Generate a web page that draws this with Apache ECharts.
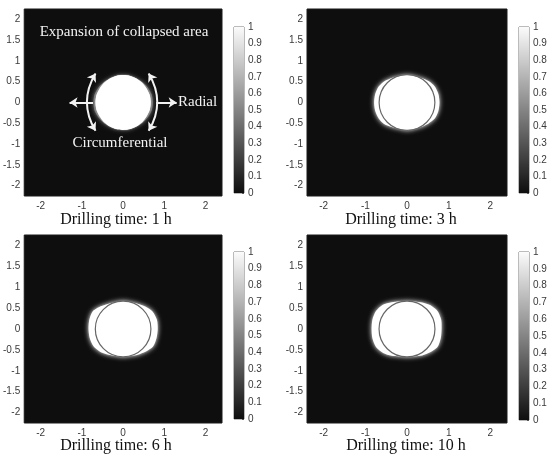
<!DOCTYPE html>
<html><head><meta charset="utf-8">
<script src="https://cdn.jsdelivr.net/npm/echarts@6/dist/echarts.min.js"></script>
<style>html,body{margin:0;padding:0;background:#fff;}#c{width:550px;height:457px;}</style>
</head><body><div id="c"></div>
<script>
// ---------- data ----------
const panelTitles = ['Drilling time: 1 h', 'Drilling time: 3 h', 'Drilling time: 6 h', 'Drilling time: 10 h'];
const xRange = [-2.4, 2.4];
const yRange = [-2.25, 2.25];
const colorbarRange = [0, 1];
const colorbarStep = 0.1;
// boundary of the fully collapsed (value = 1) zone, radius (m) read every 15 deg, counter-clockwise from +x
const angles = [0, 15, 30, 45, 60, 75, 90, 105, 120, 135, 150, 165, 180, 195, 210, 225, 240, 255, 270, 285, 300, 315, 330, 345];
const radius1h  = [0.67, 0.67, 0.66, 0.66, 0.66, 0.66, 0.66, 0.66, 0.66, 0.66, 0.66, 0.67, 0.67, 0.67, 0.66, 0.66, 0.66, 0.66, 0.66, 0.66, 0.66, 0.66, 0.66, 0.67];
const fringe1h  = [0.72, 0.72, 0.70, 0.68, 0.66, 0.66, 0.66, 0.66, 0.66, 0.68, 0.70, 0.72, 0.72, 0.72, 0.70, 0.68, 0.66, 0.66, 0.66, 0.66, 0.66, 0.68, 0.70, 0.72];
const radius3h  = [0.78, 0.78, 0.77, 0.73, 0.68, 0.66, 0.66, 0.66, 0.69, 0.74, 0.78, 0.79, 0.79, 0.79, 0.78, 0.75, 0.69, 0.66, 0.67, 0.66, 0.68, 0.72, 0.77, 0.78];
const radius6h  = [0.84, 0.85, 0.83, 0.76, 0.70, 0.67, 0.67, 0.67, 0.70, 0.77, 0.85, 0.85, 0.84, 0.84, 0.83, 0.78, 0.71, 0.67, 0.67, 0.67, 0.71, 0.77, 0.84, 0.84];
const radius10h = [0.83, 0.85, 0.85, 0.80, 0.73, 0.68, 0.67, 0.68, 0.74, 0.82, 0.86, 0.86, 0.85, 0.86, 0.86, 0.81, 0.74, 0.68, 0.67, 0.68, 0.73, 0.79, 0.85, 0.84];
const boreholeRadius = 0.67;
// annotation arrows (panel 1), data coordinates
const radialArrows = [[[-0.73, 0], [-1.30, 0]], [[0.80, 0], [1.30, 0]]];
const circumArrows = [[[-0.67, 0.70], [-0.67, -0.68]], [[0.62, 0.70], [0.62, -0.68]]];

// ---------- layout ----------
const panels = [
  {grid: {left: 22, top: 9, width: 200, height: 187}, cbar: {left: 234, top: 27, width: 10, height: 166}, title: [116, 220], radii: radius1h, fringe: fringe1h, outline: false},
  {grid: {left: 307, top: 9, width: 200, height: 187}, cbar: {left: 519, top: 27, width: 10, height: 166}, title: [401, 220], radii: radius3h, fringe: null, outline: true},
  {grid: {left: 22, top: 235, width: 200, height: 188}, cbar: {left: 234, top: 252, width: 10, height: 167}, title: [116, 446], radii: radius6h, fringe: null, outline: true},
  {grid: {left: 307, top: 235, width: 200, height: 188}, cbar: {left: 519, top: 252, width: 10, height: 168}, title: [406, 446], radii: radius10h, fringe: null, outline: true}
];

function toXY(radii) {
  return angles.map((a, i) => [radii[i] * Math.cos(a * Math.PI / 180), radii[i] * Math.sin(a * Math.PI / 180)]);
}
function polygonSeries(pts, idx, fill, blur, z) {
  return {
    type: 'custom', xAxisIndex: idx, yAxisIndex: idx, z: z, silent: true,
    data: pts,
    encode: {x: 0, y: 1},
    renderItem: function (params, api) {
      if (params.dataIndex !== 0) return null;
      const p = pts.map(q => api.coord(q));
      return {type: 'polygon', shape: {points: p, smooth: 0.25},
        style: {fill: fill, shadowBlur: blur, shadowColor: fill}};
    }
  };
}

const grids = [], xAxes = [], yAxes = [], series = [], graphics = [];
const labelStyle = {fontSize: 10, color: '#3a3a3a', fontFamily: '"Liberation Sans", Arial, sans-serif'};

panels.forEach((pn, k) => {
  const gi = grids.length;
  grids.push(Object.assign({show: true, backgroundColor: '#0e0e0e', borderColor: '#1a1a1a', borderWidth: 1}, pn.grid));
  xAxes.push({gridIndex: gi, type: 'value', min: xRange[0], max: xRange[1], splitNumber: 5,
    axisLine: {show: false}, axisTick: {show: false}, splitLine: {show: false},
    axisLabel: Object.assign({showMinLabel: false, showMaxLabel: false, margin: 5}, labelStyle)});
  yAxes.push({gridIndex: gi, type: 'value', min: yRange[0], max: yRange[1], splitNumber: 9,
    axisLine: {show: false}, axisTick: {show: false}, splitLine: {show: false},
    axisLabel: Object.assign({showMinLabel: false, showMaxLabel: false, margin: 4}, labelStyle)});
  if (pn.fringe) series.push(polygonSeries(toXY(pn.fringe), gi, '#808080', 4, 2));
  series.push(polygonSeries(toXY(pn.radii), gi, '#ffffff', pn.outline ? 5 : 1, 3));
  if (pn.outline) {
    series.push({type: 'custom', xAxisIndex: gi, yAxisIndex: gi, z: 4, silent: true,
      data: [[0, 0, boreholeRadius]], encode: {x: 0, y: 1},
      renderItem: function (params, api) {
        const c = api.coord([api.value(0), api.value(1)]);
        const s = api.size([api.value(2), api.value(2)]);
        return {type: 'circle', shape: {cx: c[0], cy: c[1], r: (s[0] + s[1]) / 2},
          style: {fill: null, stroke: '#666', lineWidth: 1.2}};
      }});
  }
  // colorbar
  const ci = grids.length;
  grids.push(Object.assign({show: true, borderColor: '#777', borderWidth: 1}, pn.cbar));
  xAxes.push({gridIndex: ci, type: 'category', data: [''], show: false});
  yAxes.push({gridIndex: ci, type: 'value', position: 'right', min: colorbarRange[0], max: colorbarRange[1], interval: colorbarStep,
    axisLine: {show: false}, splitLine: {show: false},
    axisTick: {show: true, inside: true, length: 2, lineStyle: {color: '#555'}},
    axisLabel: Object.assign({margin: 4}, labelStyle)});
  series.push({type: 'bar', xAxisIndex: ci, yAxisIndex: ci, barWidth: '100%', silent: true, z: 1,
    data: [colorbarRange[1]],
    itemStyle: {color: new echarts.graphic.LinearGradient(0, 0, 0, 1, [{offset: 0, color: '#fbfbfb'}, {offset: 1, color: '#0e0e0e'}])}});
  graphics.push({type: 'text', x: pn.title[0], y: pn.title[1], z: 10,
    style: {text: panelTitles[k], fontSize: 16, fontFamily: '"Liberation Serif", "Times New Roman", serif', fill: '#111', align: 'center', verticalAlign: 'middle'}});
});

// arrows in panel 1
series.push({type: 'lines', coordinateSystem: 'cartesian2d', xAxisIndex: 0, yAxisIndex: 0, z: 6, silent: true,
  symbol: ['none', 'arrow'], symbolSize: 8,
  lineStyle: {color: '#f2f2f2', width: 2, opacity: 1},
  data: radialArrows.map(c => ({coords: c}))});
series.push({type: 'lines', coordinateSystem: 'cartesian2d', xAxisIndex: 0, yAxisIndex: 0, z: 6, silent: true,
  symbol: ['arrow', 'arrow'], symbolSize: 8,
  lineStyle: {color: '#f2f2f2', width: 2, opacity: 1},
  data: circumArrows.map((c, i) => ({coords: c, lineStyle: {curveness: i === 0 ? -0.3 : 0.3}}))});

const annFont = '"Liberation Serif", "Times New Roman", serif';
graphics.push({type: 'text', x: 124, y: 32, z: 10, style: {text: 'Expansion of collapsed area', fontSize: 15, fontFamily: annFont, fill: '#f2f2f2', align: 'center', verticalAlign: 'middle'}});
graphics.push({type: 'text', x: 178, y: 102, z: 10, style: {text: 'Radial', fontSize: 15, fontFamily: annFont, fill: '#f2f2f2', align: 'left', verticalAlign: 'middle'}});
graphics.push({type: 'text', x: 120, y: 143, z: 10, style: {text: 'Circumferential', fontSize: 15, fontFamily: annFont, fill: '#f2f2f2', align: 'center', verticalAlign: 'middle'}});

const chart = echarts.init(document.getElementById('c'));
chart.setOption({animation: false, grid: grids, xAxis: xAxes, yAxis: yAxes, series: series, graphic: graphics});
</script></body></html>
